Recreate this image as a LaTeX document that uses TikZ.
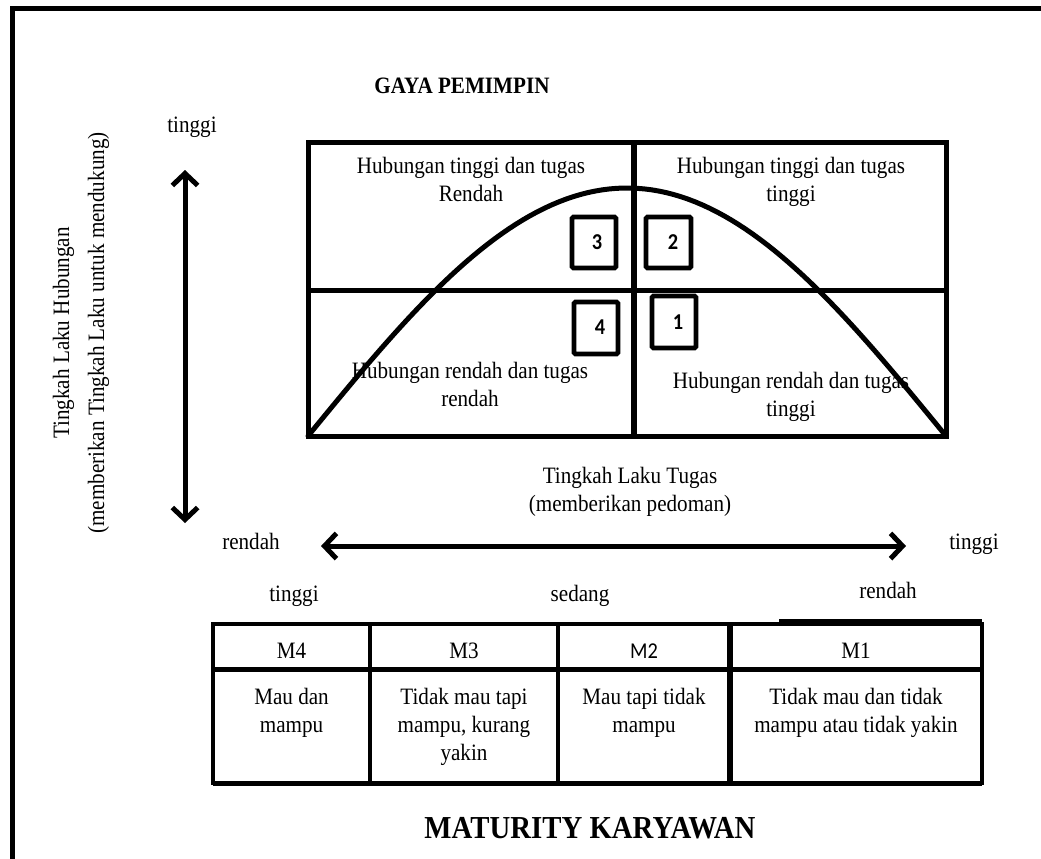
\documentclass[tikz,border=0pt]{standalone}
\usepackage{fontspec}
\setmainfont[FakeStretch=0.9]{Liberation Serif}
\newfontfamily\calib[FakeStretch=0.9]{Carlito}
\usetikzlibrary{arrows.meta}
\begin{document}
\begin{tikzpicture}[x=0.75pt,y=-0.75pt,
  txt/.style={inner sep=0pt, anchor=base, font=\fontsize{17.6pt}{21pt}\selectfont},
  ttl/.style={inner sep=0pt, anchor=base, font=\fontsize{17.6pt}{21pt}\selectfont\bfseries},
  bigttl/.style={inner sep=0pt, anchor=base, font=\fontsize{24pt}{28pt}\selectfont\bfseries},
  num/.style={inner sep=0pt, anchor=center, font=\fontsize{17pt}{20pt}\calib\bfseries},
  sanstxt/.style={inner sep=0pt, anchor=base, font=\fontsize{17pt}{21pt}\calib},
  heavy/.style={line width=3.75pt},
  numbox/.style={line width=3.4pt, rounded corners=1pt},
  tbl/.style={line width=3.2pt},
  arr/.style={line width=3.75pt, {Straight Barb[length=9pt,width=19pt]}-{Straight Barb[length=9pt,width=19pt]}}
]
\useasboundingbox (0,0) rectangle (1041,858);
% frame (only top and left visible)
\draw[heavy, line cap=rect] (12,858) -- (12,8) -- (1041,8);

% titles
\node[ttl] (gaya) at (462,93) {GAYA PEMIMPIN};
\node[txt] (ytop) at (192,132) {tinggi};
\node[txt, rotate=90] (ylab1) at (69,333) {Tingkah Laku Hubungan};
\node[txt, rotate=90] (ylab2) at (104,333) {(memberikan Tingkah Laku untuk mendukung)};

% grid
\draw[heavy] (308,142) rectangle (946,436);
\draw[heavy] (308,290) -- (946,290);
\draw[line width=5pt] (634,142) -- (634,436);
\draw[heavy, line cap=round] plot[domain=0:180, samples=90] ({308+3.5444*\x},{436-248*sin(\x)});

% quadrant texts
\node[txt] (q1a) at (471,173) {Hubungan tinggi dan tugas};
\node[txt] (q1b) at (471,201) {Rendah};
\node[txt] (q2a) at (791,173) {Hubungan tinggi dan tugas};
\node[txt] (q2b) at (791,201) {tinggi};
\node[txt] (q3a) at (470,378) {Hubungan rendah dan tugas};
\node[txt] (q3b) at (470,406) {rendah};
\node[txt] (q4a) at (791,388) {Hubungan rendah dan tugas};
\node[txt] (q4b) at (791,416) {tinggi};

% numbered boxes
\draw[numbox] (572,217) rectangle (616,268);
\draw[numbox] (646,217) rectangle (691,268);
\draw[numbox] (574,302) rectangle (618,354);
\draw[numbox] (652,296) rectangle (696,348);
\node[num] (n3) at (597,242) {3};
\node[num] (n2) at (673,242) {2};
\node[num] (n4) at (600,327) {4};
\node[num] (n1) at (678,322) {1};

% vertical arrow
\coordinate (vtop) at (185,170);
\coordinate (vbot) at (185,523);
\draw[arr] (vbot) -- (vtop);

% horizontal axis
\node[txt] (xlab1) at (630,483) {Tingkah Laku Tugas};
\node[txt] (xlab2) at (630,511) {(memberikan pedoman)};
\coordinate (hleft) at (321,546);
\coordinate (hright) at (906,546);
\draw[arr] (hleft) -- (hright);
\node[txt] (xlow) at (251,549) {rendah};
\node[txt] (xhigh) at (974,549) {tinggi};

% maturity levels
\node[txt] (m_t) at (294,601) {tinggi};
\node[txt] (m_s) at (580,601) {sedang};
\node[txt] (m_r) at (888,598) {rendah};

% table
\draw[tbl] (213,624) rectangle (982,783);
\draw[line width=3.75pt] (213,783) -- (982,783);
\draw[line width=4pt] (779,622) -- (982,622);
\draw[line width=3.75pt] (213,669) -- (982,669);
\draw[tbl] (370,624) -- (370,783);
\draw[tbl] (558,624) -- (558,783);
\draw[line width=4.2pt] (730,624) -- (730,783);

\node[txt] (h4) at (291.5,658) {M4};
\node[txt] (h3) at (464,658) {M3};
\node[sanstxt] (h2) at (644,658) {M2};
\node[txt] (h1) at (856,658) {M1};

\node[txt] (c4a) at (291.5,704) {Mau dan};
\node[txt] (c4b) at (291.5,732) {mampu};
\node[txt] (c3a) at (464,704) {Tidak mau tapi};
\node[txt] (c3b) at (464,732) {mampu, kurang};
\node[txt] (c3c) at (464,760) {yakin};
\node[txt] (c2a) at (644,704) {Mau tapi tidak};
\node[txt] (c2b) at (644,732) {mampu};
\node[txt] (c1a) at (856,704) {Tidak mau dan tidak};
\node[txt] (c1b) at (856,732) {mampu atau tidak yakin};

\node[bigttl] (mat) at (590,838) {MATURITY KARYAWAN};
\end{tikzpicture}
\end{document}
